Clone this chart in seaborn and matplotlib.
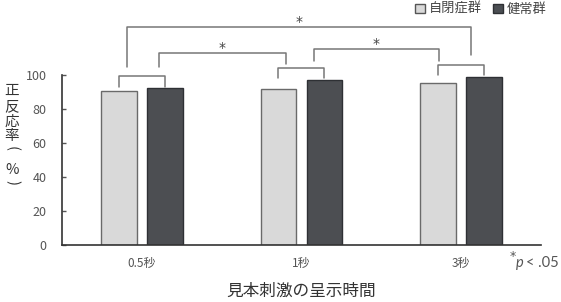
import numpy as np
import pandas as pd
import matplotlib
matplotlib.use("Agg")
import matplotlib.pyplot as plt
import seaborn as sns
from matplotlib.patches import Patch

# data
conditions = ['0.5秒', '1秒', '3秒']
groups = ['自閉症群', '健常群']
asd_rate = [90.5, 91.7, 95.0]
td_rate = [92.2, 97.0, 99.0]

# significance brackets: (x left, x right, top, left leg end, right leg end)
sig_brackets = [
    (0.11, 0.90, 113.1, 104.5, 106.3),
    (1.08, 1.86, 115.3, 108.2, 108.2),
    (-0.09, 2.06, 128.1, 104.5, 111.8),
]

df = pd.DataFrame({
    'cond': conditions * 2,
    'group': [groups[0]] * 3 + [groups[1]] * 3,
    'rate': asd_rate + td_rate,
})

sns.set_style("white")
plt.rcParams['font.family'] = ['Noto Sans CJK JP', 'DejaVu Sans']

light = '#d9d9d9'
dark = '#4b4e53'
line_col = '#777777'
text_col = '#555555'

fig = plt.figure(figsize=(5.61, 3.02), dpi=100)
ax = fig.add_axes([0.1105, 0.1897, 0.8538, 0.562])

sns.barplot(data=df, x='cond', y='rate', hue='group', hue_order=groups,
            order=conditions, palette=[light, dark], width=0.576, gap=0.22,
            linewidth=1.0, legend=False, ax=ax, errorbar=None)

for p in ax.patches:
    fc = p.get_facecolor()
    if fc[0] > 0.5:
        p.set_edgecolor('#6a6a6a')
    else:
        p.set_edgecolor('#2e3034')

ax.set_xlim(-0.5, 2.5)
ax.set_ylim(0, 100)
ax.set_yticks([0, 20, 40, 60, 80, 100])
ax.set_xticks(range(3))
ax.set_xticks([-0.5, 0.5, 1.5, 2.5], minor=True)
ax.set_xticklabels(conditions)
ax.tick_params(axis='x', which='major', length=0, labelsize=8.5, colors=text_col, pad=9)
ax.tick_params(axis='x', which='minor', length=3, width=1, direction='in', color='#333333')
ax.tick_params(axis='y', length=3, width=1, direction='in', labelsize=9, colors=text_col,
               pad=11, left=True)
for s in ['top', 'right']:
    ax.spines[s].set_visible(False)
for s in ['left', 'bottom']:
    ax.spines[s].set_color('#333333')
    ax.spines[s].set_linewidth(1.2)
ax.set_xlabel('')
ax.set_ylabel('')

# within-condition brackets from the bar centers
bars = sorted(ax.patches, key=lambda p: p.get_x())
for i in range(3):
    b1, b2 = bars[2 * i], bars[2 * i + 1]
    x1 = b1.get_x() + b1.get_width() / 2
    x2 = b2.get_x() + b2.get_width() / 2
    top = max(b1.get_height(), b2.get_height())
    ax.plot([x1, x1, x2, x2], [top + 1, top + 7, top + 7, top + 1],
            color=line_col, lw=1.1, clip_on=False)

for x1, x2, y, yl, yr in sig_brackets:
    ax.plot([x1, x1, x2, x2], [yl, y, y, yr], color=line_col, lw=1.1, clip_on=False)
    ax.text((x1 + x2) / 2, y + 3, '*', ha='center', va='center', fontsize=10,
            color='#444444', family='DejaVu Sans')

# significance note
fig.text(510 / 561, 1 - 260 / 302, '*', fontsize=9, color=text_col, ha='left', va='baseline',
         family='DejaVu Sans')
fig.text(516 / 561, 1 - 267 / 302, 'p', fontsize=10.5, color=text_col, ha='left',
         va='baseline', family='Lato', style='italic')
fig.text(526 / 561, 1 - 267 / 302, '< .05', fontsize=10.5, color=text_col, ha='left',
         va='baseline', family='Lato')

fig.text(301 / 561, 1 - 291 / 302, '見本刺激の呈示時間', fontsize=12, color='#333333',
         ha='center', va='center')

# vertical y label, one character per row (brackets turned sideways)
ylab_chars = ['正', '反', '応', '率', '(', '%', ')']
ylab_rot = [0, 0, 0, 0, -90, 0, -90]
ylab_rows = [91, 107, 122, 136, 149, 170, 183]
for ch, rot, yy in zip(ylab_chars, ylab_rot, ylab_rows):
    fig.text(12 / 561, 1 - yy / 302, ch, fontsize=10.5, color='#333333',
             ha='center', va='center', rotation=rot, rotation_mode='anchor')

handles = [Patch(facecolor=light, edgecolor='#555555', lw=1),
           Patch(facecolor=dark, edgecolor='#2e3034', lw=1)]
fig.legend(handles, groups, loc='upper right', bbox_to_anchor=(0.995, 1.03), ncol=2,
           frameon=False, fontsize=9.5, handlelength=0.7, handleheight=0.7,
           handletextpad=0.3, columnspacing=0.9, labelcolor='#444444')

fig.savefig('out.png', dpi=100)
